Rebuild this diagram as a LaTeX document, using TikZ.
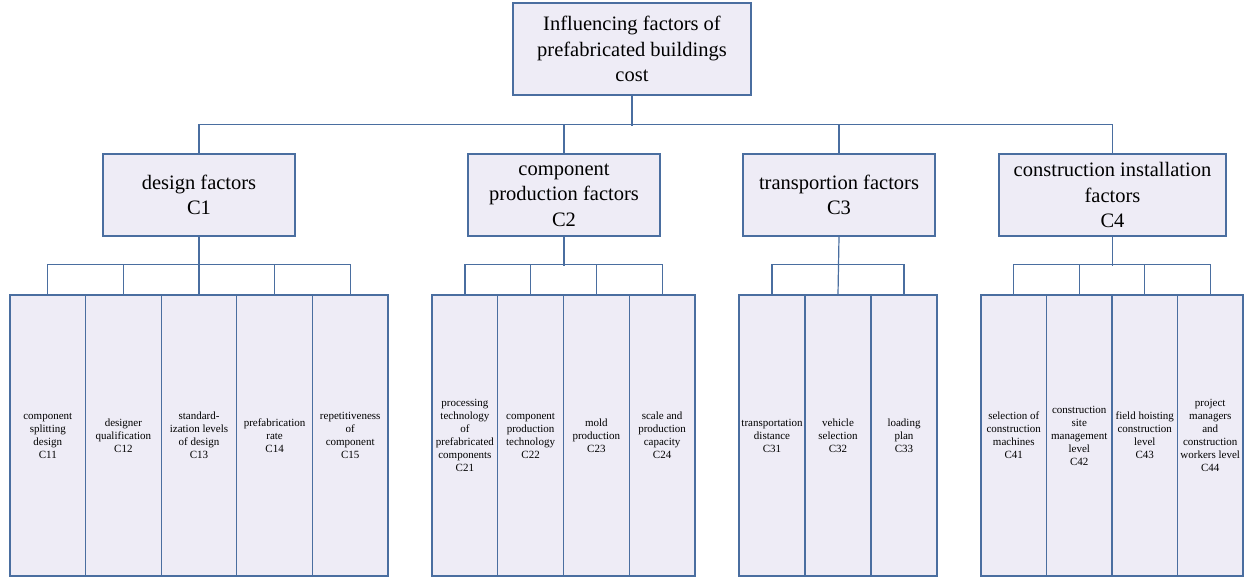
\documentclass[tikz,border=0pt]{standalone}
\usepackage{fontspec}
\setmainfont{Liberation Serif}
\definecolor{boxblue}{RGB}{74,110,160}
\definecolor{boxfill}{RGB}{238,236,246}
\tikzset{
  box/.style={draw=boxblue, fill=boxfill, line width=1.2pt, align=center, inner sep=1pt},
  big/.style={box, font=\fontsize{20.5}{25.5}\selectfont},
  leaf/.style={box, minimum height=281pt, font=\fontsize{11}{13}\selectfont},
  wire/.style={draw=boxblue, line width=1.2pt}
}
\begin{document}
\begin{tikzpicture}[x=1pt,y=1pt]
\useasboundingbox (0,0) rectangle (1244,578);

\node[big, minimum width=238pt, minimum height=92pt] (root) at (632,529)
  {Influencing factors of\\prefabricated buildings\\cost};

\node[big, minimum width=192pt, minimum height=82pt] (c1) at (199,383) {design factors\\C1};
\node[big, minimum width=192pt, minimum height=82pt] (c2) at (564,383) {component\\production factors\\C2};
\node[big, minimum width=192pt, minimum height=82pt] (c3) at (839,383) {transportion factors\\C3};
\node[big, minimum width=227pt, minimum height=82pt] (c4) at (1112.5,383) {construction installation\\factors\\C4};

\node[leaf, minimum width=75.6pt] (c11) at (47.8,142.5) {component\\splitting\\design\\C11};
\node[leaf, minimum width=75.6pt] (c12) at (123.4,142.5) {designer\\qualification\\C12};
\node[leaf, minimum width=75.6pt] (c13) at (199,142.5) {standard-\\ization levels\\of design\\C13};
\node[leaf, minimum width=75.6pt] (c14) at (274.6,142.5) {prefabrication\\rate\\C14};
\node[leaf, minimum width=75.6pt] (c15) at (350.2,142.5) {repetitiveness\\of\\component\\C15};

\node[leaf, minimum width=65.75pt] (c21) at (464.9,142.5) {processing\\technology\\of\\prefabricated\\components\\C21};
\node[leaf, minimum width=65.75pt] (c22) at (530.6,142.5) {component\\production\\technology\\C22};
\node[leaf, minimum width=65.75pt] (c23) at (596.4,142.5) {mold\\production\\C23};
\node[leaf, minimum width=65.75pt] (c24) at (662.1,142.5) {scale and\\production\\capacity\\C24};

\node[leaf, minimum width=66pt] (c31) at (772,142.5) {transportation\\distance\\C31};
\node[leaf, minimum width=66pt] (c32) at (838,142.5) {vehicle\\selection\\C32};
\node[leaf, minimum width=66pt] (c33) at (904,142.5) {loading\\plan\\C33};

\node[leaf, minimum width=65.5pt] (c41) at (1013.75,142.5) {selection of\\construction\\machines\\C41};
\node[leaf, minimum width=65.5pt] (c42) at (1079.25,142.5) {construction\\site\\management\\level\\C42};
\node[leaf, minimum width=65.5pt] (c43) at (1144.75,142.5) {field hoisting\\construction\\level\\C43};
\node[leaf, minimum width=65.5pt] (c44) at (1210.25,142.5) {project\\managers\\and\\construction\\workers level\\C44};

\draw[wire] (root.south) -- ++(0,-30);
\draw[wire] (c1.north) -- ++(0,29) -| (c4.north);
\draw[wire] (c2.north) -- ++(0,29);
\draw[wire] (c3.north) -- ++(0,29);

\draw[wire] (c11.north) -- ++(0,30) -| (c15.north);
\draw[wire] (c12.north) -- ++(0,30);
\draw[wire] (c14.north) -- ++(0,30);
\draw[wire] (c1.south) -- (c13.north);

\draw[wire] (c21.north) -- ++(0,30) -| (c24.north);
\draw[wire] (c22.north) -- ++(0,30);
\draw[wire] (c23.north) -- ++(0,30);
\draw[wire] (c2.south) -- ++(0,-29);

\draw[wire] (c31.north) -- ++(0,30) -| (c33.north);
\draw[wire] (c3.south) -- (c32.north);

\draw[wire] (c41.north) -- ++(0,30) -| (c44.north);
\draw[wire] (c42.north) -- ++(0,30);
\draw[wire] (c43.north) -- ++(0,30);
\draw[wire] (c4.south) -- ++(0,-29);
\end{tikzpicture}
\end{document}
